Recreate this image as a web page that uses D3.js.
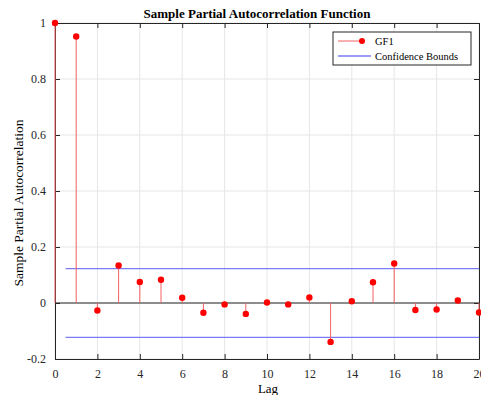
<!DOCTYPE html>
<html>
<head>
<meta charset="utf-8">
<script src="https://cdn.jsdelivr.net/npm/d3@7"></script>
<style>
  body { margin: 0; background: #fff; }
  text { font-family: "Liberation Serif", "Times New Roman", serif; }
</style>
</head>
<body>
<div id="chart"></div>
<script>
// lags and partial autocorrelation values
const lags = d3.range(0, 21);
const pacf = [1, 0.952, -0.027, 0.134, 0.075, 0.083, 0.019, -0.035, -0.005, -0.039,
              0.002, -0.005, 0.020, -0.139, 0.006, 0.074, 0.141, -0.025, -0.023, 0.009, -0.034];
const bound = 0.123;
const xTicks = [0, 2, 4, 6, 8, 10, 12, 14, 16, 18, 20];
const yTicks = [-0.2, 0, 0.2, 0.4, 0.6, 0.8, 1];

const W = 481, H = 395;
const margin = { top: 23, right: 2, bottom: 36, left: 55 };
const width = W - margin.left - margin.right,
      height = H - margin.top - margin.bottom;

const svg = d3.select("#chart")
  .append("svg")
    .attr("width", W)
    .attr("height", H);

const g = svg.append("g")
    .attr("transform", "translate(" + margin.left + "," + margin.top + ")");

const x = d3.scaleLinear().domain([0, 20]).range([0, width]);
const y = d3.scaleLinear().domain([-0.2, 1]).range([height, 0]);

// grid
g.selectAll(".gx").data(xTicks).enter().append("line")
    .attr("x1", d => x(d)).attr("x2", d => x(d))
    .attr("y1", 0).attr("y2", height)
    .attr("stroke", "#e6e6e6");
g.selectAll(".gy").data(yTicks).enter().append("line")
    .attr("x1", 0).attr("x2", width)
    .attr("y1", d => y(d)).attr("y2", d => y(d))
    .attr("stroke", "#e6e6e6");

// axes, MATLAB style ticks pointing in
const axisCol = "#262626";
const axBottom = g.append("g")
    .attr("transform", "translate(0," + height + ")")
    .call(d3.axisBottom(x).tickValues(xTicks).tickSizeInner(-5).tickSizeOuter(0).tickPadding(10));
const axLeft = g.append("g")
    .call(d3.axisLeft(y).tickValues(yTicks).tickSizeInner(-5).tickSizeOuter(0).tickPadding(9)
      .tickFormat(d => String(+d.toFixed(1))));
const axTop = g.append("g")
    .call(d3.axisTop(x).tickValues(xTicks).tickSizeInner(-5).tickSizeOuter(0).tickFormat(""));
const axRight = g.append("g")
    .attr("transform", "translate(" + width + ",0)")
    .call(d3.axisRight(y).tickValues(yTicks).tickSizeInner(-5).tickSizeOuter(0).tickFormat(""));

[axBottom, axLeft, axTop, axRight].forEach(a => {
  a.selectAll("path, line").attr("stroke", axisCol);
  a.selectAll("text").attr("fill", axisCol).style("font-size", "12px")
    .style("font-family", "'Liberation Serif', serif");
});

// confidence bounds
[bound, -bound].forEach(b => {
  g.append("line")
    .attr("x1", x(0.5)).attr("x2", x(20))
    .attr("y1", y(b)).attr("y2", y(b))
    .attr("stroke", "#7b7bf5").attr("stroke-width", 1.3);
});

// zero line
g.append("line")
    .attr("x1", 0).attr("x2", width)
    .attr("y1", y(0)).attr("y2", y(0))
    .attr("stroke", "#262626").attr("stroke-width", 1);

// stems
g.selectAll(".stem").data(lags).enter().append("line")
    .attr("x1", d => x(d)).attr("x2", d => x(d))
    .attr("y1", y(0)).attr("y2", d => y(pacf[d]))
    .attr("stroke", "#f26060").attr("stroke-width", 1);
g.selectAll(".dot").data(lags).enter().append("circle")
    .attr("cx", d => x(d)).attr("cy", d => y(pacf[d]))
    .attr("r", 3.2).attr("fill", "#ff0000");

// title and labels
svg.append("text")
    .attr("x", 257).attr("y", 18)
    .attr("text-anchor", "middle")
    .style("font-size", "13px").style("font-weight", "bold")
    .text("Sample Partial Autocorrelation Function");
svg.append("text")
    .attr("x", 268).attr("y", 393)
    .attr("text-anchor", "middle")
    .style("font-size", "13px")
    .text("Lag");
svg.append("text")
    .attr("transform", "translate(23,203) rotate(-90)")
    .attr("text-anchor", "middle")
    .style("font-size", "13.5px")
    .text("Sample Partial Autocorrelation");

// legend
const lg = svg.append("g").attr("transform", "translate(333,32)");
lg.append("rect").attr("width", 138).attr("height", 33)
    .attr("fill", "#fff").attr("stroke", "#262626").attr("stroke-width", 1);
lg.append("line").attr("x1", 5).attr("x2", 29).attr("y1", 9).attr("y2", 9)
    .attr("stroke", "#f26060");
lg.append("circle").attr("cx", 29).attr("cy", 9).attr("r", 3).attr("fill", "#ff0000");
lg.append("text").attr("x", 42).attr("y", 13).style("font-size", "10.5px").text("GF1");
lg.append("line").attr("x1", 5).attr("x2", 38).attr("y1", 24).attr("y2", 24)
    .attr("stroke", "#7b7bf5").attr("stroke-width", 1.3);
lg.append("text").attr("x", 42).attr("y", 28).style("font-size", "10.5px").text("Confidence Bounds");
</script>
</body>
</html>
